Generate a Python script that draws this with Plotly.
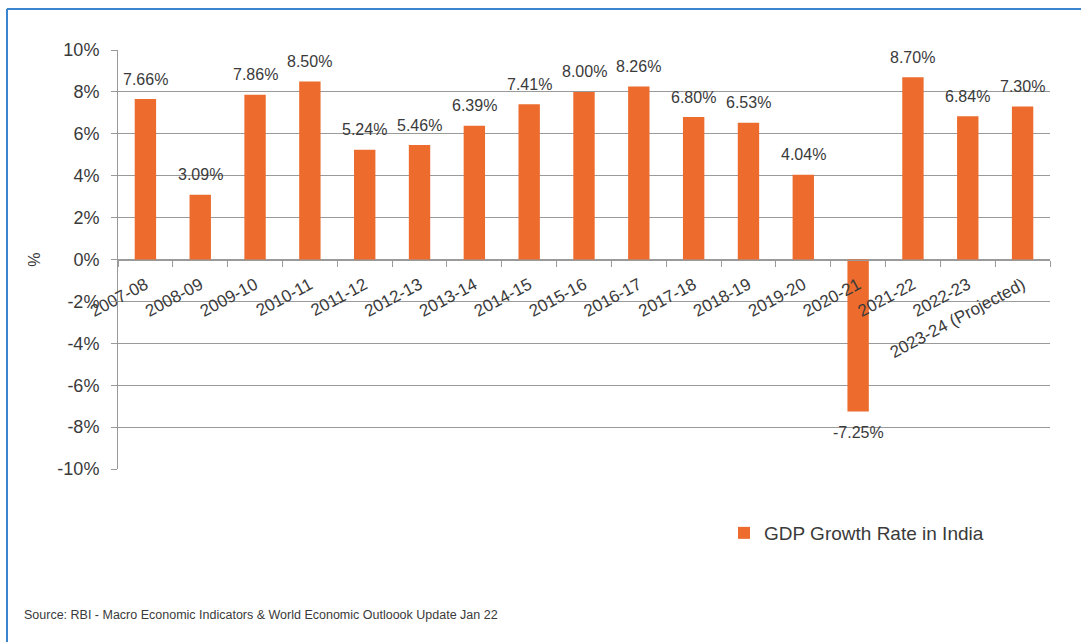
import plotly.graph_objects as go

categories = ["2007-08", "2008-09", "2009-10", "2010-11", "2011-12", "2012-13",
              "2013-14", "2014-15", "2015-16", "2016-17", "2017-18", "2018-19",
              "2019-20", "2020-21", "2021-22", "2022-23", "2023-24 (Projected)"]
gdp_growth = [7.66, 3.09, 7.86, 8.50, 5.24, 5.46, 6.39, 7.41, 8.00, 8.26,
              6.80, 6.53, 4.04, -7.25, 8.70, 6.84, 7.30]
y_tick_vals = [-10, -8, -6, -4, -2, 0, 2, 4, 6, 8, 10]
y_tick_text = ["-10%", "-8%", "-6%", "-4%", "-2%", "0%", "2%", "4%", "6%", "8%", "10%"]
series_name = "GDP Growth Rate in India"
source_text = "Source: RBI - Macro Economic Indicators & World Economic Outloook Update Jan 22"

W, H = 1081, 642
L, R, T, B = 118, 31, 50, 173
pw, ph = W - L - R, H - T - B

def px_x(x):
    return (x - L) / pw

def px_y(y):
    return (H - B - y) / ph

FONT = "Liberation Sans, Arial, sans-serif"
TXT = "#3a3a3a"
GRID = "#9a9a9a"

fig = go.Figure()
fig.add_trace(go.Bar(
    x=categories, y=gdp_growth, name=series_name,
    marker=dict(color="#EC6B2D", line=dict(width=0)),
    width=0.39,
    showlegend=True,
))

# data labels, anchored to each bar end through the axes
for c, v in zip(categories, gdp_growth):
    fig.add_annotation(x=c, y=v, xref="x", yref="y", text=f"{v:.2f}%",
                       showarrow=False, yanchor="middle",
                       yshift=20 if v >= 0 else -21,
                       font=dict(family=FONT, size=16, color=TXT))

fig.update_layout(
    width=W, height=H,
    margin=dict(l=L, r=R, t=T, b=B, autoexpand=False),
    paper_bgcolor="white", plot_bgcolor="white",
    font=dict(family=FONT, color=TXT),
    showlegend=True,
    legend=dict(x=px_x(724), y=px_y(533), xanchor="left", yanchor="middle",
                font=dict(size=19, color=TXT, family=FONT),
                bgcolor="rgba(0,0,0,0)", itemwidth=30),
)

fig.update_yaxes(
    range=[-10, 10], tickvals=y_tick_vals, ticktext=y_tick_text,
    showgrid=True, gridcolor=GRID, gridwidth=1,
    showline=True, linecolor=GRID, linewidth=1,
    ticks="outside", ticklen=6, tickcolor=GRID, ticklabelstandoff=8,
    tickfont=dict(size=18, color=TXT, family=FONT),
    zeroline=False, automargin=False,
    title=dict(text="%", font=dict(size=16, color=TXT, family=FONT), standoff=12),
)

fig.update_xaxes(
    type="category", anchor="free", position=0.5,
    showline=True, linecolor=GRID, linewidth=1,
    ticks="outside", ticklen=6, tickcolor=GRID, tickson="boundaries",
    ticklabelstandoff=8,
    tickangle=-28, tickfont=dict(size=17, color=TXT, family=FONT),
    showgrid=False, automargin=False,
    range=[-0.5, len(categories) - 0.5],
)

# blue frame (top and left edges of the original screenshot)
fig.add_shape(type="line", xref="paper", yref="paper",
              x0=px_x(7), x1=px_x(W + 5), y0=px_y(9), y1=px_y(9),
              line=dict(color="#3B84D0", width=2))
fig.add_shape(type="line", xref="paper", yref="paper",
              x0=px_x(7), x1=px_x(7), y0=px_y(9), y1=px_y(H + 5),
              line=dict(color="#3B84D0", width=2))

fig.add_annotation(text=source_text, xref="paper", yref="paper",
                   x=px_x(22), y=px_y(615), xanchor="left", yanchor="middle",
                   showarrow=False, font=dict(size=12.5, color=TXT, family=FONT))

fig.write_html("out.html")
